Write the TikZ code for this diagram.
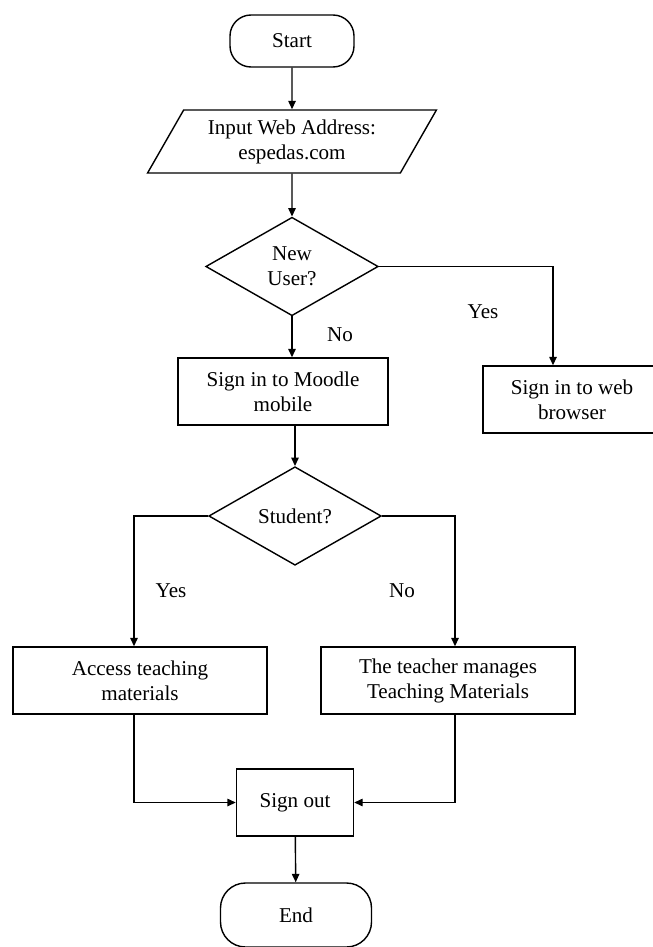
\documentclass[tikz,border=0pt]{standalone}
\usepackage{fontspec}
\setmainfont{Liberation Serif}
\usetikzlibrary{shapes.geometric,arrows.meta}
\begin{document}
\begin{tikzpicture}[x=0.2mm, y=-0.2mm, font=\fontsize{12}{14.2}\selectfont]
        \tikzstyle{term} = [rectangle, rounded corners=4.2mm, minimum width=2.48cm, minimum height=1.04cm, text centered, draw=black, line width=0.8pt]
        \tikzstyle{proc} = [rectangle, minimum height=1.34cm, align=center, inner sep=1pt, draw=black, line width=0.8pt]
        \tikzstyle{io} = [trapezium, trapezium left angle=59, trapezium right angle=121, trapezium stretches=true, minimum width=5.78cm, minimum height=1.26cm, align=center, inner sep=1pt, draw=black, line width=0.8pt]
        \tikzstyle{decision} = [diamond, aspect=1.75, minimum width=3.45cm, minimum height=1.97cm, inner sep=0pt, align=center, draw=black, line width=0.8pt]
        \tikzstyle{arrow} = [line width=0.8pt, -{Triangle[length=1.7mm, width=1.5mm]}]
        \tikzstyle{lbl} = [inner sep=0pt]
        \useasboundingbox (0,0) rectangle (652,947);
        \node (start) [term] at (292, 41) {Start};
        \node (input) [io] at (292, 141.5) {Input Web Address:\\espedas.com};
        \node (user) [decision] at (292, 266.5) {New\\User?};
        \node (moodle) [proc, minimum width=4.2cm] at (283, 391.5) {Sign in to Moodle\\mobile};
        \node (web) [proc, minimum width=3.56cm] at (572, 399.5) {Sign in to web\\browser};
        \node (student) [decision] at (295, 516) {Student?};
        \node (access) [proc, minimum width=5.08cm] at (140, 680.5) {Access teaching\\materials};
        \node (teacher) [proc, minimum width=5.08cm] at (448, 680.5) {The teacher manages\\Teaching Materials};
        \node (signout) [proc, minimum width=2.34cm] at (295, 802.5) {Sign out};
        \node (end) [term, rounded corners=5mm, minimum width=3.02cm, minimum height=1.28cm] at (296, 915) {End};
        \node (yesweb) [lbl] at (483, 312) {Yes};
        \node (nomoodle) [lbl] at (340, 335) {No};
        \node (yesaccess) [lbl] at (171, 591) {Yes};
        \node (noteacher) [lbl] at (402, 591) {No};
        \draw[arrow] (start) to (input);
        \draw[arrow] (input) to (user);
        \draw[arrow] (user.south) to (user.south |- moodle.north);
        \draw[arrow] (user.east) -| ([xshift=-3.8mm]web.north);
        \draw[arrow] (moodle.south -| student.north) to (student.north);
        \draw[arrow] (student.west) -| ([xshift=-1.2mm]access.north);
        \draw[arrow] (student.east) -| ([xshift=1.4mm]teacher.north);
        \draw[arrow] ([xshift=-1.2mm]access.south) |- (signout.west);
        \draw[arrow] ([xshift=1.4mm]teacher.south) |- (signout.east);
        \draw[arrow] (signout) to (end);
    \end{tikzpicture}
\end{document}
